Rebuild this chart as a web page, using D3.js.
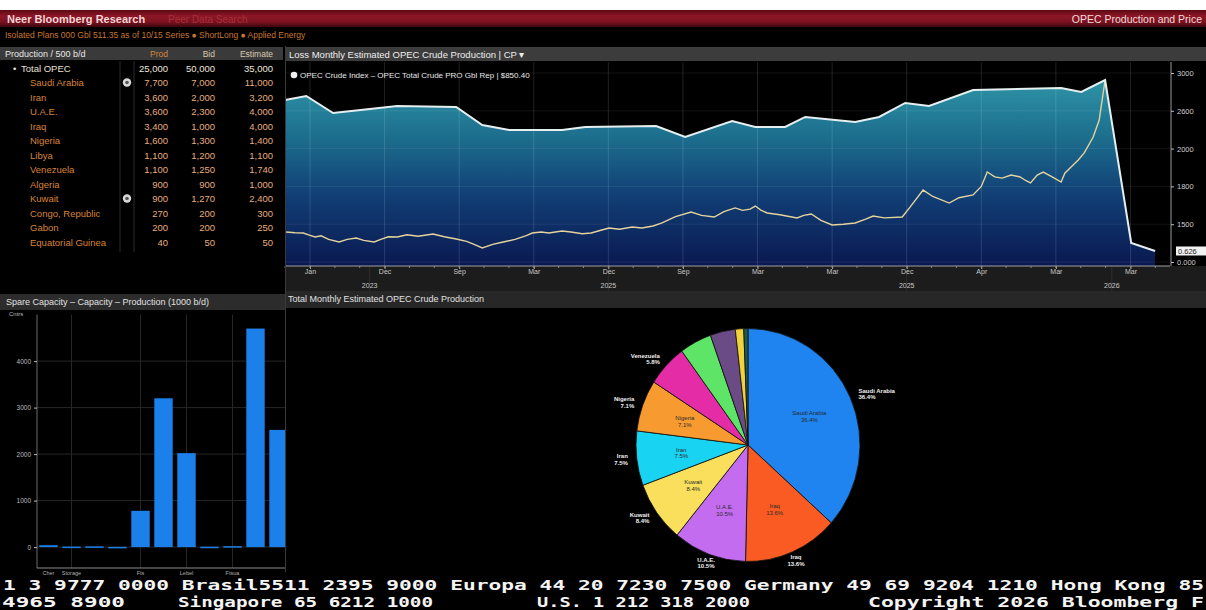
<!DOCTYPE html>
<html><head><meta charset="utf-8">
<script src="https://cdn.jsdelivr.net/npm/d3@7"></script>
<style>
html,body{margin:0;padding:0;background:#000;overflow:hidden}
svg{display:block}
text{font-family:'Liberation Sans Narrow','Arial Narrow','Liberation Sans',Arial,sans-serif}
.mono{font-family:'DejaVu Sans Mono','Liberation Mono',monospace;font-weight:bold}
</style></head><body>
<svg id="c" width="1206" height="610"></svg>
<script>
// ---------------- DATA ----------------
const tableColumns = ["Prod", "Bid", "Estimate"];
const tableCountries = ["Total OPEC","Saudi Arabia","Iran","U.A.E.","Iraq","Nigeria","Libya","Venezuela","Algeria","Kuwait","Congo, Republic","Gabon","Equatorial Guinea"];
const tableProd = [25000,7700,3600,3600,3400,1600,1100,1100,900,900,270,200,40];
const tableBid  = [50000,7000,2000,2300,1000,1300,1200,1250,900,1270,200,200,50];
const tableEst  = [35000,11000,3200,4000,4000,1400,1100,1740,1000,2400,300,250,50];
const tableFlagged = ["Saudi Arabia","Kuwait"];

const xTickLabels = ["Jan","Dec","Sep","Mar","Dec","Sep","Mar","Mar","Dec","Apr","Mar","Mar"];
const xYearLabels = ["2023","2025","2025","2026"];
const xYearPos = [0.8, 4, 8, 10.75];
const yTickValues = [0,1500,1800,2000,2600,3000];
const yTickLabels = ["0.000","1500","1800","2000","2600","3000"];

// production (white area) : period index, value
const prodT = [-0.335,-0.05,0.31,1.17,1.96,2.31,2.67,3.38,3.69,4.64,5.03,5.66,5.97,6.37,6.64,7.31,7.63,7.98,8.30,8.89,10.07,10.34,10.66,11.01,11.33];
const prodV = [2714,2757,2565,2651,2640,2375,2295,2295,2343,2359,2184,2438,2343,2343,2502,2422,2502,2683,2651,2820,2841,2799,2926,754,437];

// price (pale yellow line)
const priceT = [-0.32,-0.2,-0.09,0.0,0.07,0.15,0.25,0.39,0.5,0.62,0.72,0.86,0.95,1.05,1.17,1.3,1.45,1.65,1.8,1.96,2.1,2.2,2.31,2.45,2.59,2.75,2.9,2.98,3.1,3.2,3.38,3.5,3.65,3.77,3.9,4.01,4.15,4.32,4.45,4.6,4.72,4.9,5.11,5.25,5.42,5.55,5.7,5.8,5.9,5.97,6.05,6.13,6.3,6.53,6.62,6.72,6.85,7.0,7.15,7.31,7.45,7.55,7.7,7.94,8.05,8.22,8.35,8.57,8.7,8.89,9.0,9.08,9.18,9.28,9.4,9.52,9.6,9.66,9.75,9.83,9.95,10.07,10.12,10.19,10.3,10.38,10.5,10.58,10.66];
const priceV = [1190,1160,1151,1060,992,1040,900,794,900,952,860,794,900,1000,992,1080,1020,1111,1000,913,820,700,556,700,794,900,1050,1151,1190,1150,1230,1190,1120,1151,1260,1349,1300,1389,1350,1430,1510,1560,1597,1570,1557,1600,1629,1610,1620,1644,1610,1589,1575,1549,1570,1581,1530,1468,1500,1510,1540,1565,1550,1557,1640,1771,1720,1668,1710,1732,1800,1876,1850,1844,1860,1850,1830,1818,1860,1876,1850,1823,1870,1897,1940,1977,2184,2450,2926];
const lastValueLabel = "0.626";

const barCategories = ["b1","b2","b3","b4","b5","b6","b7","b8","b9","b10","b11"];
const barLabels = ["Cher","Storage","","","Fts","","Lebel","","Ftsua","",""];
const barValues = [40,10,15,5,780,3200,2020,8,20,4700,2520];
const barTicks = [0,1000,2000,3000,4000];

const pieNames  = ["Saudi Arabia","Iraq","U.A.E.","Kuwait","Iran","Nigeria","Venezuela","Algeria","Libya","Gabon","Congo"];
const pieShares = [36.4,13.6,10.5,8.4,7.5,7.1,5.8,4.6,3.6,1.2,0.6];
const pieColors = ["#1f83f0","#fa5b22","#c46cf0","#f9df5c","#18d3f2","#f79b30","#e42ca6","#5ee467","#6b4b85","#f0d23c","#1d5a50"];

// ---------------- DRAW ----------------
const svg = d3.select("#c");
const defs = svg.append("defs");
svg.append("rect").attr("width",1206).attr("height",610).attr("fill","#000");
svg.append("rect").attr("width",1206).attr("height",10).attr("fill","#fff");

const rg = defs.append("linearGradient").attr("id","red").attr("x1",0).attr("x2",0).attr("y1",0).attr("y2",1);
[[0,"#5a0a14"],[0.35,"#8e1626"],[0.7,"#7c1220"],[1,"#3c070d"]].forEach(([o,c])=>rg.append("stop").attr("offset",o).attr("stop-color",c));
svg.append("rect").attr("y",10).attr("width",1206).attr("height",17).attr("fill","url(#red)");
svg.append("text").attr("x",7).attr("y",22.5).attr("font-size",11).attr("font-weight","bold").attr("fill","#f3d6d6").text("Neer  Bloomberg Research");
svg.append("text").attr("x",168).attr("y",22.5).attr("font-size",10).attr("fill","#a8303c").text("Peer Data Search");
svg.append("text").attr("x",1202).attr("y",22.5).attr("text-anchor","end").attr("font-size",10.5).attr("fill","#f0dcdc").text("OPEC Production and Price");
svg.append("text").attr("x",5).attr("y",38).attr("font-size",8.5).attr("fill","#c8782e")
  .text("Isolated Plans 000 Gbl  511.35 as of 10/15     Series ● ShortLong ● Applied Energy");

// ---- Table panel ----
svg.append("rect").attr("x",0).attr("y",47).attr("width",283).attr("height",13).attr("fill","#3a3a3a");
svg.append("text").attr("x",5).attr("y",57).attr("font-size",9).attr("fill","#e8e8e8").text("Production / 500 b/d");
const colX = [168,215,273];
svg.selectAll("text.colh").data(tableColumns).join("text").attr("class","colh")
  .attr("x",(d,i)=>colX[i]).attr("y",57).attr("text-anchor","end").attr("font-size",8.5)
  .attr("fill",(d,i)=>i===0?"#d8843a":"#d9c9b0").text(d=>d);
[120,134].forEach(xx=>svg.append("line").attr("x1",xx).attr("x2",xx).attr("y1",61).attr("y2",252).attr("stroke","#2b2b2b"));
const rowsData = tableCountries.map((c,i)=>({c,i,vals:[tableProd[i],tableBid[i],tableEst[i]]}));
const fmt = d3.format(",");
const rows = svg.selectAll("g.row").data(rowsData).join("g").attr("class","row")
  .attr("transform",d=>`translate(0,${68+d.i*14.5})`).attr("font-size",9.5);
rows.append("text").attr("x",d=>d.i===0?21:30).attr("y",3.5).attr("fill",d=>d.i===0?"#e8e0d4":"#d8843a").text(d=>d.c);
rows.filter(d=>d.i===0).append("text").attr("x",13).attr("y",3.5).attr("fill","#e8e0d4").text("•");
rows.selectAll("text.num").data(d=>d.vals.map(v=>({v,tot:d.i===0}))).join("text").attr("class","num")
  .attr("x",(d,i)=>colX[i]).attr("y",3.5).attr("text-anchor","end")
  .attr("fill",d=>d.tot?"#ece6dc":"#e6ad7e").text(d=>fmt(d.v));
rows.filter(d=>tableFlagged.includes(d.c)).each(function(){
  const g=d3.select(this);
  g.append("circle").attr("cx",127).attr("cy",0).attr("r",4.2).attr("fill","#d8d8d8");
  g.append("circle").attr("cx",127).attr("cy",0).attr("r",1.8).attr("fill","#555");
});

// ---- Top chart ----
const PX0=285, PX1=1170, PY0=62, PY1=266;
svg.append("rect").attr("x",286).attr("y",47).attr("width",920).attr("height",14).attr("fill","#3c3c3c");
svg.append("text").attr("x",289).attr("y",57.5).attr("font-size",9.5).attr("fill","#eeeeee").text("Loss Monthly Estimated OPEC Crude Production | CP ▾");
const x = d3.scaleLinear().domain([-0.335,11.53]).range([PX0,PX1]);
const y = d3.scaleLinear().domain(yTickValues).range(yTickValues.map((d,i)=>262-i*37.8));

const ag = defs.append("linearGradient").attr("id","area").attr("gradientUnits","userSpaceOnUse")
  .attr("x1",0).attr("x2",0).attr("y1",80).attr("y2",PY1);
[[0,"#2d93a6"],[0.3,"#1d6f8e"],[0.62,"#113f76"],[1,"#0a1850"]].forEach(([o,c])=>ag.append("stop").attr("offset",o).attr("stop-color",c));
defs.append("clipPath").attr("id","plotclip").append("rect").attr("x",PX0).attr("y",PY0).attr("width",PX1-PX0).attr("height",PY1-PY0);

const prodData = prodT.map((t,i)=>({t,v:prodV[i]}));
const priceData = priceT.map((t,i)=>({t,v:priceV[i]}));
const plot = svg.append("g").attr("clip-path","url(#plotclip)");
plot.append("path").datum(prodData).attr("fill","url(#area)")
  .attr("d",d3.area().x(d=>x(d.t)).y0(PY1).y1(d=>y(d.v)));
plot.selectAll("line.vg").data(d3.range(12)).join("line").attr("class","vg")
  .attr("x1",d=>x(d)).attr("x2",d=>x(d)).attr("y1",PY0).attr("y2",PY1).attr("stroke","rgba(255,255,255,0.13)");
plot.selectAll("line.hg").data(yTickValues).join("line").attr("class","hg")
  .attr("x1",PX0).attr("x2",PX1).attr("y1",d=>y(d)).attr("y2",d=>y(d)).attr("stroke","rgba(255,255,255,0.07)");
plot.append("path").datum(priceData).attr("fill","none").attr("stroke","#e4d39c").attr("stroke-width",1.4)
  .attr("d",d3.line().x(d=>x(d.t)).y(d=>y(d.v)));
plot.append("path").datum(prodData).attr("fill","none").attr("stroke","#e6eff0").attr("stroke-width",2)
  .attr("d",d3.line().x(d=>x(d.t)).y(d=>y(d.v)));

svg.append("circle").attr("cx",294).attr("cy",75).attr("r",3.3).attr("fill","#f2f2f2");
svg.append("text").attr("x",300).attr("y",78).attr("font-size",8).attr("fill","#e8e8e8").text("OPEC Crude Index – OPEC Total Crude PRO Gbl Rep | $850.40");

const ra = svg.append("g").attr("transform",`translate(1171,0)`)
  .call(d3.axisRight(y).tickValues(yTickValues).tickSize(3).tickFormat((d,i)=>yTickLabels[i]));
ra.select(".domain").attr("stroke","#9a9a9a").attr("d",`M0,${PY0}V${PY1}`);
ra.selectAll(".tick line").attr("stroke","#bbb");
ra.selectAll(".tick text").attr("fill","#cfcfcf").attr("font-size",7.5).attr("font-family","'Liberation Sans Narrow','Liberation Sans',sans-serif");
const lastY = y(prodV[prodV.length-1]);
svg.append("rect").attr("x",1176).attr("y",lastY-4.5).attr("width",30).attr("height",9).attr("fill","#f2f2f2");
svg.append("text").attr("x",1178).attr("y",lastY+3).attr("font-size",7.5).attr("fill","#222").text(lastValueLabel);

svg.append("rect").attr("x",285).attr("y",PY1).attr("width",921).attr("height",25).attr("fill","#1c1c1c");
svg.selectAll("line.vg2").data(xYearPos).join("line").attr("class","vg2")
  .attr("x1",d=>x(d)).attr("x2",d=>x(d)).attr("y1",PY1).attr("y2",291).attr("stroke","#2e2e2e");
const xa = svg.append("g").attr("transform",`translate(0,${PY1})`)
  .call(d3.axisBottom(x).tickValues(d3.range(12)).tickSize(3).tickFormat((d,i)=>xTickLabels[i]));
xa.select(".domain").attr("stroke","#a0a0a0").attr("d",`M${PX0},0H${PX1}`);
xa.selectAll(".tick line").attr("stroke","#aaa");
xa.selectAll(".tick text").attr("fill","#c8c8c8").attr("font-size",7).attr("dy","0.3em")
  .attr("font-family","'Liberation Sans Narrow','Liberation Sans',sans-serif");
svg.selectAll("line.minor").data(d3.range(-1,35).map(k=>k/3)).join("line").attr("class","minor")
  .attr("x1",d=>x(d)).attr("x2",d=>x(d)).attr("y1",PY1).attr("y2",PY1+2).attr("stroke","#888");
svg.selectAll("text.yr").data(xYearLabels).join("text").attr("class","yr")
  .attr("x",(d,i)=>x(xYearPos[i])).attr("y",288).attr("text-anchor","middle").attr("font-size",7).attr("fill","#c8c8c8").text(d=>d);

// ---- Pie panel ----
svg.append("rect").attr("x",285).attr("y",291).attr("width",921).attr("height",17).attr("fill","#272727");
svg.append("text").attr("x",288).attr("y",302).attr("font-size",9).attr("fill","#e2e2e2").text("Total Monthly Estimated OPEC Crude Production");
svg.append("line").attr("x1",285.5).attr("x2",285.5).attr("y1",46).attr("y2",572).attr("stroke","#3a3a3a");

const PCX=748, PCY=445, PR=112, SY=1.04;
const pie = d3.pie().sort(null).value(d=>d.v)(pieNames.map((n,i)=>({n,v:pieShares[i],c:pieColors[i]})));
const arc = d3.arc().innerRadius(0).outerRadius(PR);
svg.append("g").attr("transform",`translate(${PCX},${PCY}) scale(1,${SY})`)
  .selectAll("path").data(pie).join("path").attr("d",arc).attr("fill",d=>d.data.c)
  .attr("stroke","#111").attr("stroke-width",0.8);
const inArc = d3.arc().innerRadius(PR*0.6).outerRadius(PR*0.6);
const inner = svg.append("g").selectAll("text.pin").data(pie.slice(0,6)).join("text").attr("class","pin")
  .attr("transform",d=>{const c=inArc.centroid(d);return `translate(${PCX+c[0]},${PCY+c[1]*SY})`;})
  .attr("text-anchor","middle").attr("font-size",6).attr("fill","#2a2a2a");
inner.append("tspan").attr("x",0).attr("dy","-0.2em").text(d=>d.data.n);
inner.append("tspan").attr("x",0).attr("dy","1.1em").text(d=>d.data.v.toFixed(1)+"%");
const outArc = d3.arc().innerRadius(PR*1.08).outerRadius(PR*1.08);
const outer = svg.append("g").selectAll("text.pout").data(pie.slice(0,7)).join("text").attr("class","pout")
  .attr("transform",d=>{const c=outArc.centroid(d);return `translate(${PCX+c[0]},${PCY+c[1]*SY})`;})
  .attr("text-anchor",d=>{const m=(d.startAngle+d.endAngle)/2;const s=Math.sin(m);return s>0.5?"start":(s<-0.5?"end":"middle");})
  .attr("font-size",6).attr("font-weight","bold").attr("fill","#f0f0f0");
outer.append("tspan").attr("x",0).attr("dy","-0.2em").text(d=>d.data.n);
outer.append("tspan").attr("x",0).attr("dy","1.1em").text(d=>d.data.v.toFixed(1)+"%");

// ---- Bar panel ----
svg.append("rect").attr("x",0).attr("y",294).attr("width",285).attr("height",16).attr("fill","#2c2c2c");
svg.append("text").attr("x",6).attr("y",305).attr("font-size",9).attr("fill","#e2e2e2").text("Spare Capacity – Capacity – Production (1000 b/d)");
const BX0=37, BX1=290, BY0=314.6, BY1=568;
const bx = d3.scaleBand().domain(barCategories).range([BX0,BX1]).paddingInner(0.2).paddingOuter(0.1);
const by = d3.scaleLinear().domain([-450,5000]).range([BY1,BY0]);
defs.append("clipPath").attr("id","barclip").append("rect").attr("x",0).attr("y",BY0-5).attr("width",285).attr("height",BY1-BY0+20);
const bg = svg.append("g").attr("clip-path","url(#barclip)");
bg.selectAll("line.bh").data(barTicks).join("line").attr("class","bh")
  .attr("x1",BX0).attr("x2",285).attr("y1",d=>by(d)).attr("y2",d=>by(d)).attr("stroke","#262626");
bg.selectAll("line.bv").data(barCategories.filter((c,i)=>i>0&&barLabels[i])).join("line").attr("class","bv")
  .attr("x1",d=>bx(d)+bx.bandwidth()/2).attr("x2",d=>bx(d)+bx.bandwidth()/2).attr("y1",BY0).attr("y2",BY1).attr("stroke","#262626");
bg.selectAll("rect.bar").data(barCategories).join("rect").attr("class","bar")
  .attr("x",d=>bx(d)).attr("width",bx.bandwidth())
  .attr("y",(d,i)=>by(barValues[i])).attr("height",(d,i)=>Math.max(1.5,by(0)-by(barValues[i])))
  .attr("fill","#1b80ea");
const ya = svg.append("g").attr("transform",`translate(${BX0},0)`)
  .call(d3.axisLeft(by).tickValues(barTicks).tickSize(3).tickFormat(d3.format("d")));
ya.select(".domain").attr("stroke","#6a6a6a").attr("d",`M0,${BY0}V${BY1}`);
ya.selectAll(".tick line").attr("stroke","#bbb");
ya.selectAll(".tick text").attr("fill","#bdbdbd").attr("font-size",6.5).attr("font-family","'Liberation Sans Narrow','Liberation Sans',sans-serif");
svg.append("line").attr("x1",BX0).attr("x2",285).attr("y1",BY1).attr("y2",BY1).attr("stroke","#8a8a8a");
svg.append("text").attr("x",9).attr("y",316).attr("font-size",6).attr("fill","#bdbdbd").text("Cntrs");
svg.selectAll("text.bl").data(barCategories).join("text").attr("class","bl")
  .attr("x",d=>bx(d)+bx.bandwidth()/2).attr("y",575).attr("text-anchor","middle")
  .attr("font-size",5.5).attr("fill","#b0b0b0").text((d,i)=>barLabels[i]);

// ---- Footer ----
const foot1 = "1 3 9777 0000 Brasil5511 2395 9000 Europa 44 20 7230 7500 Germany 49 69 9204 1210 Hong Kong 85";
svg.append("text").attr("class","mono").attr("x",3).attr("y",590).attr("font-size",14).attr("fill","#f4f4f4")
  .attr("textLength",1201).attr("lengthAdjust","spacingAndGlyphs").text(foot1);
const foot2 = [["4965 8900",2,123],["Singapore 65 6212 1000",178,255],["U.S. 1 212 318 2000",537,213],["Copyright 2026 Bloomberg F",868,336]];
svg.selectAll("text.f2").data(foot2).join("text").attr("class","mono f2")
  .attr("x",d=>d[1]).attr("y",606.5).attr("font-size",14).attr("fill","#f4f4f4")
  .attr("textLength",d=>d[2]).attr("lengthAdjust","spacingAndGlyphs").text(d=>d[0]);
</script>
</body></html>
